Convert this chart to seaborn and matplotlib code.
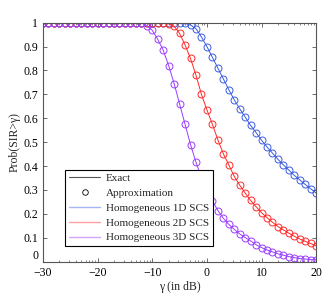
import numpy as np
import pandas as pd
import matplotlib
matplotlib.use("Agg")
import matplotlib.pyplot as plt
from matplotlib.lines import Line2D
from matplotlib.ticker import FixedLocator, FuncFormatter
import seaborn as sns

# gamma in dB, one point per dB
gamma_db = list(range(-30, 21))

# Prob(SIR > gamma)
p_1d = [1.0] * 26 + [0.997, 0.99, 0.975, 0.94, 0.90, 0.855, 0.81, 0.765, 0.72, 0.677,
                     0.64, 0.605, 0.57, 0.54, 0.508, 0.48, 0.454, 0.428, 0.405, 0.383,
                     0.361, 0.342, 0.323, 0.305, 0.287]
p_2d = [1.0] * 22 + [0.999, 0.995, 0.985, 0.955, 0.907, 0.85, 0.78, 0.70, 0.635, 0.575,
                     0.51, 0.452, 0.405, 0.357, 0.32, 0.287, 0.256, 0.23, 0.205, 0.184,
                     0.165, 0.147, 0.133, 0.119, 0.106, 0.095, 0.085, 0.076, 0.066]
p_3d = [1.0] * 17 + [0.9995, 0.998, 0.988, 0.968, 0.93, 0.885, 0.82, 0.745, 0.66, 0.575,
                     0.49, 0.416, 0.352, 0.30, 0.255, 0.214, 0.182, 0.156, 0.135, 0.116,
                     0.101, 0.087, 0.071, 0.059, 0.049, 0.041, 0.033, 0.027, 0.021, 0.017,
                     0.013, 0.011, 0.009, 0.008]

series_names = ["Homogeneous 1D SCS", "Homogeneous 2D SCS", "Homogeneous 3D SCS"]
series_colors = ["#3a5ce0", "#ff2a2a", "#9a3cff"]

x_ticks = [-30, -20, -10, 0, 10, 20]
y_ticks = [0, 0.1, 0.2, 0.3, 0.4, 0.5, 0.6, 0.7, 0.8, 0.9, 1.0]

df = pd.DataFrame({
    "gamma": gamma_db * 3,
    "prob": p_1d + p_2d + p_3d,
    "scs": [n for n in series_names for _ in gamma_db],
})

sns.set_style("ticks")
plt.rcParams["font.family"] = ["Liberation Serif", "DejaVu Serif"]
plt.rcParams["font.size"] = 8

fig = plt.figure(figsize=(3.36, 2.94), dpi=100)
ax = fig.add_axes([0.128, 0.110, 0.813, 0.813])

for name, col in zip(series_names, series_colors):
    sns.lineplot(data=df[df["scs"] == name], x="gamma", y="prob", ax=ax,
                 color=col, linewidth=0.7, marker="o", markersize=5,
                 mfc="none", mec=col, mew=0.7, legend=False)

ax.set_xlim(-30, 20)
ax.set_ylim(0, 1)
ax.set_xticks(x_ticks)
ax.set_yticks(y_ticks)
ax.yaxis.set_major_formatter(FuncFormatter(lambda v, p: "%g" % v))
ax.xaxis.set_major_formatter(FuncFormatter(lambda v, p: ("%d" % v).replace("-", "\u2212")))

# log-looking minor ticks on x, as in the original
minor = [b + 10 * np.log10(k) for b in range(-30, 20, 10) for k in range(2, 10)]
ax.xaxis.set_minor_locator(FixedLocator(minor))

for s in ax.spines.values():
    s.set_visible(True)
    s.set_color("#555555")
    s.set_linewidth(0.8)
ax.tick_params(which="both", direction="in", top=True, right=True, colors="#555555",
               labelcolor="black", labelsize=8.5)
ax.tick_params(which="major", length=3, width=0.6)
ax.tick_params(which="minor", length=1.5, width=0.5)
ax.tick_params(axis="x", pad=4)

# lift the "0" on y a little so it clears "-30"
fig.canvas.draw()
ax.get_yticklabels()[0].set_va("bottom")

ax.set_xlabel("\u03b3 (in dB)", fontsize=8.5, labelpad=1)
ax.set_ylabel("Prob(SIR>\u03b3)", fontsize=8.5, labelpad=2)

handles = [Line2D([], [], color="#555555", lw=0.8),
           Line2D([], [], color="black", lw=0, marker="o", markersize=4, mfc="none", mew=0.6)]
handles += [Line2D([], [], color=c, lw=1.0, alpha=0.45) for c in series_colors]
labels = ["Exact", "Approximation"] + series_names
leg = ax.legend(handles, labels, loc="lower left", bbox_to_anchor=(0.081, 0.064),
                borderaxespad=0, fontsize=8, frameon=True, fancybox=False,
                handlelength=2.8, handletextpad=0.5, labelspacing=0.45, borderpad=0.35)
leg.get_frame().set_edgecolor("black")
leg.get_frame().set_linewidth(0.8)
leg.get_frame().set_alpha(1)

fig.savefig("out.png", dpi=100)
